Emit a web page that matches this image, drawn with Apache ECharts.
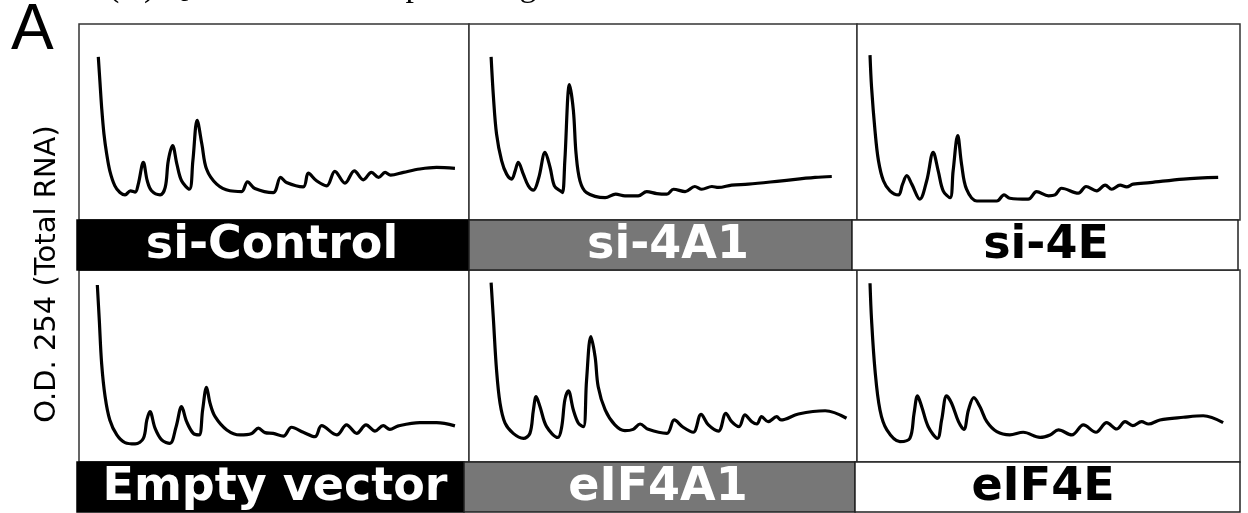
<!DOCTYPE html>
<html>
<head>
<meta charset="utf-8">
<script src="https://cdn.jsdelivr.net/npm/echarts@6/dist/echarts.min.js"></script>
<style>
  html, body { margin: 0; padding: 0; background: #ffffff; }
  #chart { width: 1248px; height: 513px; }
</style>
</head>
<body>
<div id="chart"></div>
<script>
// Polysome profiles: sucrose-gradient position (% of gradient) vs. A254 (relative units)
var siControl = [
  [4.95,83.2],[5.4,69.6],[5.8,57.6],[6.4,43.9],[7.1,33.7],[7.9,25.1],[9.2,17.4],[10.5,14],[11.8,12.8],
  [13.2,14.9],[14.4,14.2],[15.2,18.3],[16.5,29.4],[17.5,20],[18.6,14.9],[20.8,12.8],[22.1,16.6],
  [22.9,30.3],[24,37.9],[25.1,28.5],[26.3,20],[28.3,15.7],[29.2,30.3],[30.3,50.8],[31.5,38.8],
  [32.7,26],[35.3,18.3],[38.7,14.9],[41.7,14.5],[43.2,19.5],[45.1,16.1],[49.8,14],[51.7,21.7],
  [53.2,19.1],[57.5,16.9],[58.8,23.9],[60.9,20],[63.5,17.4],[65.6,24.8],[68.2,18.8],[70.6,25.1],
  [72.9,20.5],[75,24.3],[76.8,21.7],[78.5,24.3],[79.9,22.9],[83.2,24.3],[87.4,26],[91.7,26.8],[96.4,26.3]
];
var si4A1 = [
  [5.7,83.2],[6.3,62.7],[7.1,43.9],[8.4,30.3],[9.7,23.4],[11,20.9],[11.9,25.1],[12.7,29.4],[14,23.4],
  [15.3,17.4],[16.6,15.2],[18,21.7],[19.6,34.5],[20.9,26.8],[22,17.4],[23.5,14.9],[24.1,14],[24.7,30.3],
  [25.9,69.1],[26.9,55.9],[27.6,33.7],[28.6,20],[30.3,14],[35.1,11.4],[37.8,13.2],[40.2,12.3],
  [43.6,12.3],[45.8,14.5],[48.4,13.5],[51,13.2],[52.7,15.7],[55.7,14.5],[58.2,17.1],[60,15.7],
  [62.6,17.1],[64.3,16.6],[67.7,17.8],[72,18.3],[80.6,20],[89.2,21.7],[93.5,22.2]
];
var si4E = [
  [3.4,84.1],[3.8,67.8],[4.7,45.6],[5.6,30.3],[6.9,20],[8.6,14.9],[10.8,12.8],[11.9,18.3],[13,22.6],
  [14.3,18.3],[16.4,10.6],[18.2,20],[19.9,34.5],[21.2,25.1],[22.5,14.9],[24.3,11.4],[25.1,25.1],
  [26.3,43.1],[27.3,28.5],[28.6,15.7],[31.3,9.7],[36.5,9.7],[38.4,12.8],[39.9,11.1],[44.7,10.6],
  [46.9,14.5],[50,12.3],[51.7,12.8],[53.4,16.2],[57.8,13.7],[59.8,17.1],[62.6,14.9],[64.8,17.8],
  [66.5,15.7],[68.7,17.8],[70.4,16.9],[72.1,18.3],[76.5,19.1],[85.2,20.9],[94.3,21.7]
];
var emptyVector = [
  [4.7,92.2],[5.2,74],[5.8,51.4],[6.7,34],[7.9,21.9],[9.7,14.1],[11.8,10.1],[14.4,9.4],[16.5,12.3],
  [17.4,21.9],[18.2,26.2],[19.5,17.6],[21.2,11.5],[23.3,9.7],[24.9,18.4],[26.3,28.8],[27.6,21],
  [29.3,14.9],[30.8,14.1],[31.7,27.1],[32.7,38.9],[33.6,30.6],[34.9,23.6],[37.9,16.7],[41.3,14.1],
  [44.3,14.9],[46,17.6],[47.7,15.3],[49.8,14.9],[52.4,13.5],[54.5,18.1],[57.5,15.5],[60.5,13.2],
  [62.2,18.9],[66.1,14.1],[68.6,19.3],[71.2,14.9],[73.6,19.3],[75.9,16.1],[78,18.9],[79.7,17],
  [81.9,18.8],[87.4,20.5],[91.7,20.5],[96.4,18.8]
];
var eIF4A1 = [
  [5.7,93.4],[6.3,74],[7.1,47.9],[8,30.6],[9.3,20.2],[11.4,14.9],[14,12.3],[15.7,14.9],[16.6,27.1],
  [17.3,34],[18.3,28.8],[20,18.4],[22.9,12.8],[23.9,18.4],[24.7,32.3],[25.6,37.1],[26.9,27.1],
  [28.2,20.2],[29.5,18.4],[30.3,42.7],[31.4,65.3],[32.5,54.8],[33.3,39.2],[35.1,27.1],[37.6,19.3],
  [40.2,16.3],[42.3,17],[44.1,19.8],[46.2,17],[51,14.9],[52.9,21.9],[55.2,18.1],[57.8,15.5],
  [59.8,24.8],[61.7,19.3],[64.3,16.1],[66.2,25.4],[67.7,21],[69.6,18.4],[71.1,24.5],[72.9,21],
  [74.2,19.8],[75.4,23.6],[77.1,21],[79.3,23.6],[80.4,21.9],[84.9,25],[91.8,26.7],[97.3,22.8]
];
var eIF4E = [
  [3.4,93.1],[3.8,74],[4.7,47.9],[6,27.1],[7.8,16.7],[11.2,10.6],[13.8,12.3],[14.9,25.4],[15.8,34.4],
  [16.9,28.8],[18.6,18.4],[21,12.3],[22.1,21.9],[23.4,34.4],[24.7,30.6],[26.5,21],[27.9,17],
  [29.1,27.1],[30.5,33.5],[32.1,28.8],[33.9,21],[36.5,15.8],[39.9,14.1],[43.4,15.5],[47.8,12.8],
  [50.4,14.1],[52.6,16.7],[56.1,14.1],[59.1,19.3],[62.4,15.5],[65.2,20.5],[67.8,17.2],[70,21],
  [72,18.9],[74.3,21],[76.1,19.8],[79.1,21.9],[85.2,23.3],[90.4,24.1],[95.6,20.5]
];

var conditionNames = ['si-Control', 'si-4A1', 'si-4E', 'Empty vector', 'eIF4A1', 'eIF4E'];
var profiles = [siControl, si4A1, si4E, emptyVector, eIF4A1, eIF4E];
var yAxisTitle = 'O.D. 254 (Total RNA)';
var panelLetter = 'A';
var captionText = '(A) Quantification of peak heights';

// panel frame geometry (pixels)
var colLeft = [79, 469, 857];
var colWidth = [390, 388, 383];
var rowTop = [24, 270];
var rowHeight = [196, 192];

// label strip under each panel: [left, right], fill, text colour, text centre x
var stripRows = [
  { top: 220, bottom: 270 },
  { top: 462, bottom: 512 }
];
var strips = [
  { x0: 77,  x1: 469,  fill: '#000000', ink: '#ffffff', cx: 272, stroke: null },
  { x0: 469, x1: 852,  fill: '#777777', ink: '#ffffff', cx: 668, stroke: '#222222' },
  { x0: 852, x1: 1238, fill: '#ffffff', ink: '#000000', cx: 1046, stroke: '#222222' },
  { x0: 77,  x1: 464,  fill: '#000000', ink: '#ffffff', cx: 275, stroke: null },
  { x0: 464, x1: 855,  fill: '#777777', ink: '#ffffff', cx: 658, stroke: '#222222' },
  { x0: 855, x1: 1240, fill: '#ffffff', ink: '#000000', cx: 1043, stroke: '#222222' }
];

var grids = [], xAxes = [], yAxes = [], series = [], graphics = [];
for (var i = 0; i < 6; i++) {
  var r = Math.floor(i / 3), c = i % 3;
  grids.push({
    left: colLeft[c], top: rowTop[r], width: colWidth[c], height: rowHeight[r],
    show: true, borderColor: '#333333', borderWidth: 1.5, backgroundColor: '#ffffff'
  });
  xAxes.push({ type: 'value', gridIndex: i, min: 0, max: 100, show: false });
  yAxes.push({ type: 'value', gridIndex: i, min: 0, max: 100, show: false });
  series.push({
    type: 'line', xAxisIndex: i, yAxisIndex: i, data: profiles[i],
    showSymbol: false, smooth: 0.35, silent: true,
    lineStyle: { color: '#000000', width: 3.2 }
  });
  var s = strips[i], sr = stripRows[r];
  graphics.push({
    type: 'rect', z: 10,
    shape: { x: s.x0, y: sr.top, width: s.x1 - s.x0, height: sr.bottom - sr.top },
    style: { fill: s.fill, stroke: s.stroke || s.fill, lineWidth: 1.5 }
  });
  graphics.push({
    type: 'text', z: 11, x: s.cx, y: (sr.top + sr.bottom) / 2 + 1,
    style: {
      text: conditionNames[i], fill: s.ink,
      font: 'bold 46px "DejaVu Sans"', textAlign: 'center', textVerticalAlign: 'middle'
    }
  });
}

graphics.push({
  type: 'text', z: 11, x: 47, y: 274, rotation: Math.PI / 2,
  style: {
    text: yAxisTitle, fill: '#000000', font: '29px "DejaVu Sans"',
    textAlign: 'center', textVerticalAlign: 'middle'
  }
});
graphics.push({
  type: 'text', z: 11, x: 11, y: 31,
  style: {
    text: panelLetter, fill: '#000000', font: '64px "Liberation Sans"',
    textAlign: 'left', textVerticalAlign: 'middle'
  }
});
graphics.push({
  type: 'text', z: 11, x: 108, y: -13,
  style: {
    text: captionText, fill: '#000000', font: '34px "Liberation Serif"',
    textAlign: 'left', textVerticalAlign: 'middle'
  }
});

var chart = echarts.init(document.getElementById('chart'), null, { renderer: 'canvas' });
chart.setOption({
  backgroundColor: '#ffffff',
  animation: false,
  grid: grids,
  xAxis: xAxes,
  yAxis: yAxes,
  series: series,
  graphic: graphics
});
</script>
</body>
</html>
